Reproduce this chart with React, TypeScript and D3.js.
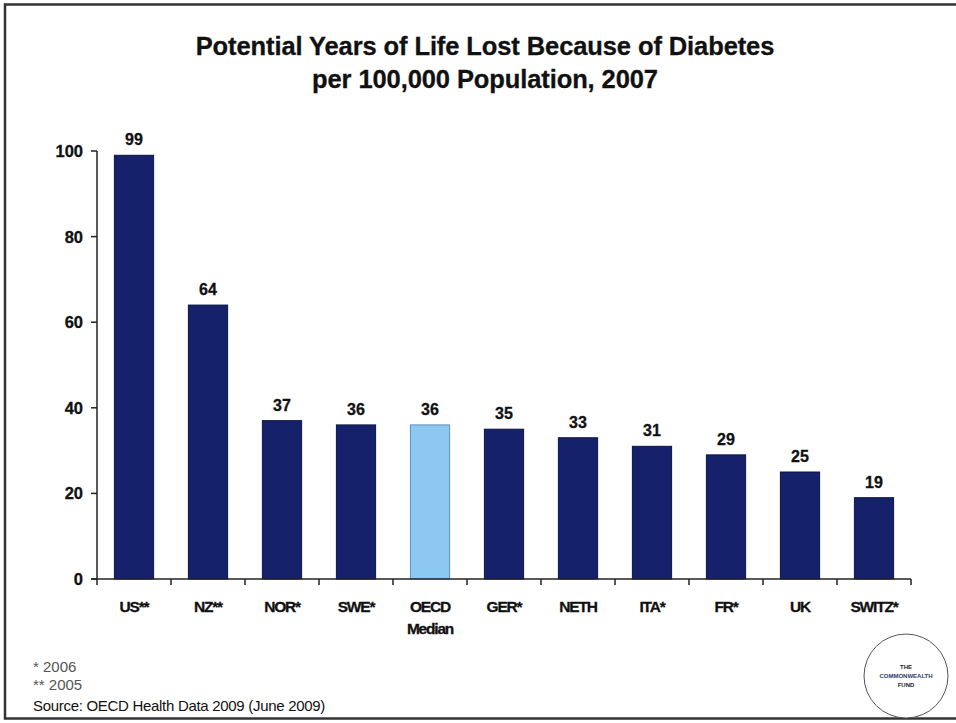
import React, { useEffect, useRef } from 'react';
import * as d3 from 'd3';

const categories = ['US**', 'NZ**', 'NOR*', 'SWE*', 'OECD|Median', 'GER*', 'NETH', 'ITA*', 'FR*', 'UK', 'SWITZ*'];
const values = [99, 64, 37, 36, 36, 35, 33, 31, 29, 25, 19];
const highlight = ['OECD|Median'];
const yTicks = [0, 20, 40, 60, 80, 100];
const titleLines = ['Potential Years of Life Lost Because of Diabetes', 'per 100,000 Population, 2007'];
const footnotes = ['* 2006', '** 2005'];
const sourceText = 'Source: OECD Health Data 2009 (June 2009)';

const App: React.FC = () => {
  const svgRef = useRef<SVGSVGElement>(null);

  useEffect(() => {
    const svg = d3.select(svgRef.current);
    svg.selectAll('*').remove();

    const width = 956;
    const height = 723;
    const margin = { top: 151, left: 97, right: 45, bottom: 144 };
    const innerWidth = width - margin.left - margin.right;
    const innerHeight = height - margin.top - margin.bottom;
    const font = 'Arial, "Liberation Sans", Helvetica, sans-serif';

    svg.attr('width', width).attr('height', height);

    svg.append('rect')
      .attr('width', width)
      .attr('height', height)
      .attr('fill', '#ffffff');

    // frame
    svg.append('rect')
      .attr('x', 5)
      .attr('y', 4.5)
      .attr('width', width + 10)
      .attr('height', 714)
      .attr('fill', 'none')
      .attr('stroke', '#333')
      .attr('stroke-width', 2.5);

    // title
    const title = svg.append('text')
      .attr('text-anchor', 'middle')
      .attr('font-family', font)
      .attr('font-weight', 'bold')
      .attr('font-size', 25.5)
      .attr('letter-spacing', -0.1)
      .attr('fill', '#111')
      .attr('stroke', '#111')
      .attr('stroke-width', 0.3);
    titleLines.forEach((line, i) => {
      title.append('tspan')
        .attr('x', 485)
        .attr('y', 55 + i * 33)
        .text(line);
    });

    const g = svg.append('g')
      .attr('transform', `translate(${margin.left},${margin.top})`);

    const xScale = d3.scaleBand()
      .domain(categories)
      .range([0, innerWidth])
      .paddingInner(0.47)
      .paddingOuter(0.235);

    const yScale = d3.scaleLinear()
      .domain([0, 100])
      .range([innerHeight, 0]);

    // bars
    g.selectAll('.bar')
      .data(categories)
      .enter().append('rect')
      .attr('class', 'bar')
      .attr('x', d => xScale(d)!)
      .attr('y', (d, i) => yScale(values[i]))
      .attr('width', xScale.bandwidth())
      .attr('height', (d, i) => innerHeight - yScale(values[i]))
      .attr('fill', d => highlight.includes(d) ? '#8cc8f2' : '#15216a')
      .attr('stroke', d => highlight.includes(d) ? '#5d8fc0' : '#0c1445')
      .attr('stroke-width', 1);

    // value labels
    g.selectAll('.val')
      .data(categories)
      .enter().append('text')
      .attr('class', 'val')
      .attr('x', d => xScale(d)! + xScale.bandwidth() / 2)
      .attr('y', (d, i) => yScale(values[i]) - 10)
      .attr('text-anchor', 'middle')
      .attr('font-family', font)
      .attr('font-weight', 'bold')
      .attr('font-size', 16)
      .attr('fill', '#111')
      .attr('stroke', '#111')
      .attr('stroke-width', 0.3)
      .text((d, i) => values[i]);

    // y axis
    g.append('line')
      .attr('x1', 0).attr('x2', 0)
      .attr('y1', yScale(100)).attr('y2', yScale(0))
      .attr('stroke', '#222').attr('stroke-width', 1.5);

    const yAxis = g.append('g');
    yTicks.forEach(t => {
      yAxis.append('line')
        .attr('x1', -6).attr('x2', 0)
        .attr('y1', yScale(t)).attr('y2', yScale(t))
        .attr('stroke', '#222').attr('stroke-width', 1.5);
      yAxis.append('text')
        .attr('x', -14)
        .attr('y', yScale(t) + 6)
        .attr('text-anchor', 'end')
        .attr('font-family', font)
        .attr('font-weight', 'bold')
        .attr('font-size', 16.5)
        .attr('fill', '#111')
        .attr('stroke', '#111')
        .attr('stroke-width', 0.3)
        .text(t);
    });

    // x axis
    g.append('line')
      .attr('x1', -6).attr('x2', innerWidth)
      .attr('y1', innerHeight).attr('y2', innerHeight)
      .attr('stroke', '#222').attr('stroke-width', 1.5);

    const step = xScale.step();
    const edge0 = xScale(categories[0])! - step * 0.235;
    d3.range(categories.length + 1).forEach(i => {
      const x = edge0 + i * step;
      g.append('line')
        .attr('x1', x).attr('x2', x)
        .attr('y1', innerHeight).attr('y2', innerHeight + 6)
        .attr('stroke', '#222').attr('stroke-width', 1.5);
    });

    // category labels
    categories.forEach(c => {
      const t = g.append('text')
        .attr('text-anchor', 'middle')
        .attr('font-family', font)
        .attr('font-weight', 'bold')
        .attr('font-size', 15.5)
        .attr('letter-spacing', -1.2)
        .attr('fill', '#111')
        .attr('stroke', '#111')
        .attr('stroke-width', 0.3);
      c.split('|').forEach((part, j) => {
        t.append('tspan')
          .attr('x', xScale(c)! + xScale.bandwidth() / 2)
          .attr('y', innerHeight + 33 + j * 22)
          .text(part);
      });
    });

    // footnotes
    footnotes.forEach((f, i) => {
      svg.append('text')
        .attr('x', 33)
        .attr('y', 672 + i * 18)
        .attr('font-family', font)
        .attr('font-size', 15)
        .attr('fill', '#555')
        .text(f);
    });
    svg.append('text')
      .attr('x', 33)
      .attr('y', 711)
      .attr('font-family', font)
      .attr('font-size', 15)
      .attr('letter-spacing', -0.3)
      .attr('fill', '#111')
      .text(sourceText);

    // logo
    const logo = svg.append('g').attr('transform', 'translate(906,676)');
    logo.append('circle')
      .attr('r', 42)
      .attr('fill', '#fff')
      .attr('stroke', '#555')
      .attr('stroke-width', 1);
    ['THE', 'COMMONWEALTH', 'FUND'].forEach((w, i) => {
      logo.append('text')
        .attr('y', -7 + i * 9)
        .attr('text-anchor', 'middle')
        .attr('font-family', font)
        .attr('font-weight', 'bold')
        .attr('font-size', 6)
        .attr('fill', i === 1 ? '#2a3a6a' : '#222')
        .text(w);
    });
  }, []);

  return (
    <svg ref={svgRef} style={{ position: 'absolute', left: 0, top: 0 }}></svg>
  );
};

export default App;
